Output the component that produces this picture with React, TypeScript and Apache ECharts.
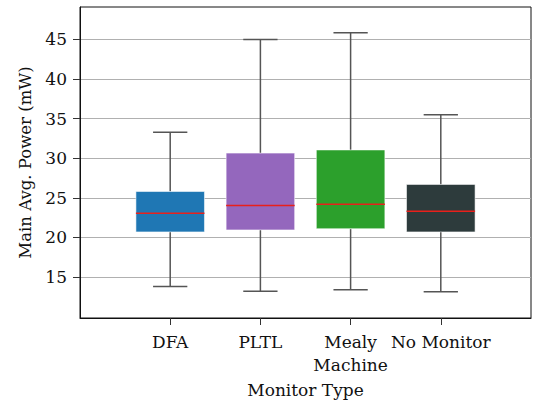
import React, { useEffect, useRef } from "react";
import * as echarts from "echarts";

const categories = ["", "DFA", "PLTL", "Mealy\nMachine", "No Monitor", ""];
const boxCategoryIndex = [1, 2, 3, 4];
const whiskerLow = [13.8, 13.2, 13.4, 13.15];
const quartile1 = [20.7, 20.95, 21.1, 20.7];
const medians = [23.05, 24.05, 24.2, 23.3];
const quartile3 = [25.8, 30.65, 31.05, 26.7];
const whiskerHigh = [33.3, 45.0, 45.85, 35.5];
const boxColors = ["#1f77b4", "#9467bd", "#2ca02c", "#2d3b3c"];
const yTickValues = [15, 20, 25, 30, 35, 40, 45];

const FONT = "DejaVu Serif";

export default function App() {
  const ref = useRef<HTMLDivElement>(null);
  useEffect(() => {
    if (!ref.current) return;
    const chart = echarts.init(ref.current, null, { renderer: "svg" });
    const data = boxCategoryIndex.map((c, i) => [
      c,
      whiskerLow[i],
      quartile1[i],
      medians[i],
      quartile3[i],
      whiskerHigh[i],
    ]);
    chart.setOption({
      animation: false,
      backgroundColor: "#fff",
      grid: {
        left: 80,
        right: 6,
        top: 7,
        bottom: 87,
        show: true,
        borderColor: "#111",
        borderWidth: 1,
        backgroundColor: "transparent",
      },
      xAxis: {
        type: "category",
        data: categories,
        boundaryGap: false,
        name: "Monitor Type",
        nameLocation: "middle",
        nameGap: 63,
        nameTextStyle: { fontFamily: FONT, fontSize: 17, color: "#111" },
        axisLine: { lineStyle: { color: "#111", width: 1 } },
        axisTick: {
          length: 7,
          lineStyle: { color: "#333" },
          interval: (idx: number) => idx > 0 && idx < categories.length - 1,
        },
        axisLabel: {
          interval: 0,
          margin: 12,
          fontFamily: FONT,
          fontSize: 17,
          color: "#111",
          lineHeight: 23,
        },
        splitLine: { show: false },
      },
      yAxis: {
        type: "value",
        min: 9.83,
        max: 49.1,
        name: "Main Avg. Power (mW)",
        nameLocation: "middle",
        nameGap: 46,
        nameTextStyle: { fontFamily: FONT, fontSize: 16.5, color: "#111" },
        axisLine: { show: true, lineStyle: { color: "#111", width: 1 } },
        axisTick: {
          show: true,
          length: 7,
          lineStyle: { color: "#333" },
          customValues: yTickValues,
        },
        axisLabel: {
          margin: 13,
          fontFamily: FONT,
          fontSize: 17,
          color: "#111",
          customValues: yTickValues,
        },
        splitLine: { show: true, lineStyle: { color: "#b0b0b0", width: 1 } },
      },
      series: [
        {
          type: "custom",
          data,
          encode: { x: 0, y: [1, 2, 3, 4, 5] },
          renderItem: (params: any, api: any) => {
            const x = api.value(0);
            const lo = api.coord([x, api.value(1)]);
            const q1 = api.coord([x, api.value(2)]);
            const med = api.coord([x, api.value(3)]);
            const q3 = api.coord([x, api.value(4)]);
            const hi = api.coord([x, api.value(5)]);
            const band = api.size([1, 0])[0];
            const bw = band * 0.76;
            const cw = bw / 2;
            const cx = lo[0];
            const color = boxColors[params.dataIndex];
            const wStyle = { stroke: "#555", lineWidth: 1.5 };
            return {
              type: "group",
              children: [
                { type: "line", shape: { x1: cx, y1: lo[1], x2: cx, y2: q1[1] }, style: wStyle },
                { type: "line", shape: { x1: cx, y1: q3[1], x2: cx, y2: hi[1] }, style: wStyle },
                { type: "line", shape: { x1: cx - cw / 2, y1: lo[1], x2: cx + cw / 2, y2: lo[1] }, style: wStyle },
                { type: "line", shape: { x1: cx - cw / 2, y1: hi[1], x2: cx + cw / 2, y2: hi[1] }, style: wStyle },
                {
                  type: "rect",
                  shape: { x: cx - bw / 2, y: q3[1], width: bw, height: q1[1] - q3[1] },
                  style: { fill: color, stroke: "rgba(255,255,255,0.55)", lineWidth: 1 },
                },
                {
                  type: "line",
                  shape: { x1: cx - bw / 2, y1: med[1], x2: cx + bw / 2, y2: med[1] },
                  style: { stroke: "#e8201b", lineWidth: 1.5 },
                },
              ],
            };
          },
        },
      ],
    });
    return () => chart.dispose();
  }, []);
  return <div ref={ref} style={{ width: 537, height: 405, position: "absolute", left: 0, top: 0 }} />;
}
